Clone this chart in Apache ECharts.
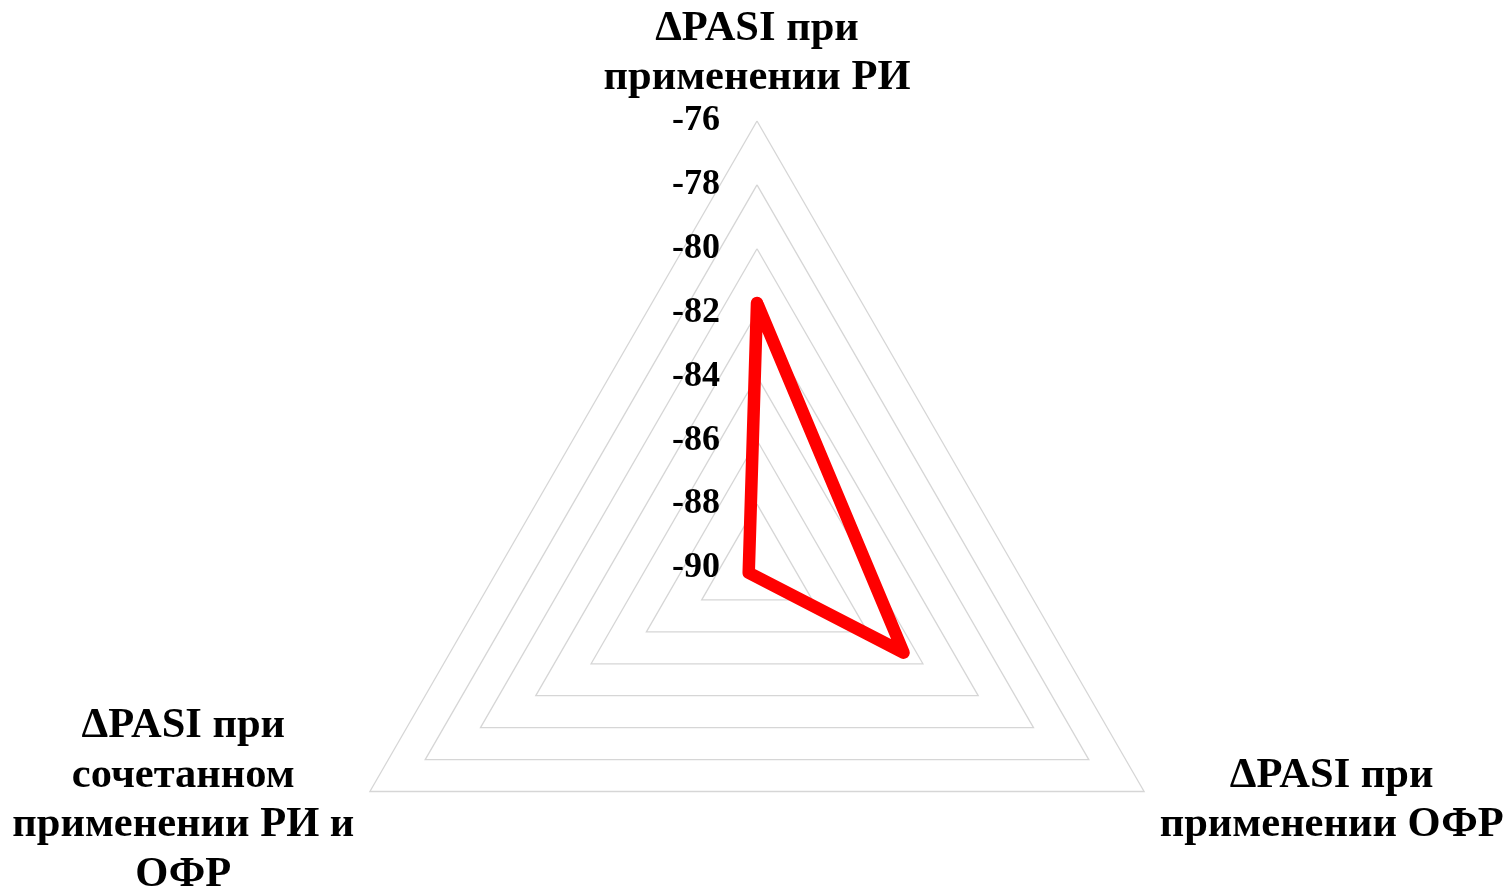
<!DOCTYPE html>
<html>
<head>
<meta charset="utf-8">
<script src="https://cdn.jsdelivr.net/npm/echarts@6/dist/echarts.min.js"></script>
<style>
html,body{margin:0;padding:0;background:#fff;}
#chart{width:1508px;height:891px;}
</style>
</head>
<body>
<div id="chart"></div>
<script>
// Indicators (counter-clockwise from top: top, bottom-left, bottom-right)
const indicatorNames = [
  'ΔPASI при\nприменении РИ',
  'ΔPASI при\nсочетанном\nприменении РИ и\nОФР',
  'ΔPASI при\nприменении ОФР'
];
const axisMin = -90;
const axisMax = -76;
const seriesValues = [-81.7, -89.7, -84.7];

const chart = echarts.init(document.getElementById('chart'), null, {renderer: 'canvas'});
const font = 'Liberation Serif, Times New Roman, serif';
chart.setOption({
  backgroundColor: '#fff',
  animation: false,
  radar: {
    center: [757, 568],
    radius: 447,
    startAngle: 90,
    splitNumber: 7,
    shape: 'polygon',
    nameGap: 18,
    indicator: indicatorNames.map((n, i) => ({
      name: n, min: axisMin, max: axisMax,
      axisLabel: {show: i === 0}
    })),
    axisLine: {show: false},
    axisTick: {show: false},
    splitLine: {lineStyle: {color: '#d6d6d6', width: 1.3}},
    splitArea: {show: false},
    axisLabel: {
      show: false, color: '#000', fontFamily: font, fontWeight: 'bold', fontSize: 36,
      margin: 37, padding: [6, 0, 0, 0]
    },
    axisName: {
      formatter: function (name) {
        return name.split('\n').map(l => '{c|' + l + '}').join('\n');
      },
      rich: {
        c: {
          align: 'center', color: '#000', fontFamily: font, fontWeight: 'bold',
          fontSize: 42.5, lineHeight: 49.5
        }
      }
    }
  },
  series: [{
    type: 'radar',
    symbol: 'none',
    lineStyle: {color: '#ff0000', width: 12.5, join: 'round', cap: 'round'},
    itemStyle: {color: '#ff0000'},
    data: [{value: seriesValues}]
  }]
});
</script>
</body>
</html>
